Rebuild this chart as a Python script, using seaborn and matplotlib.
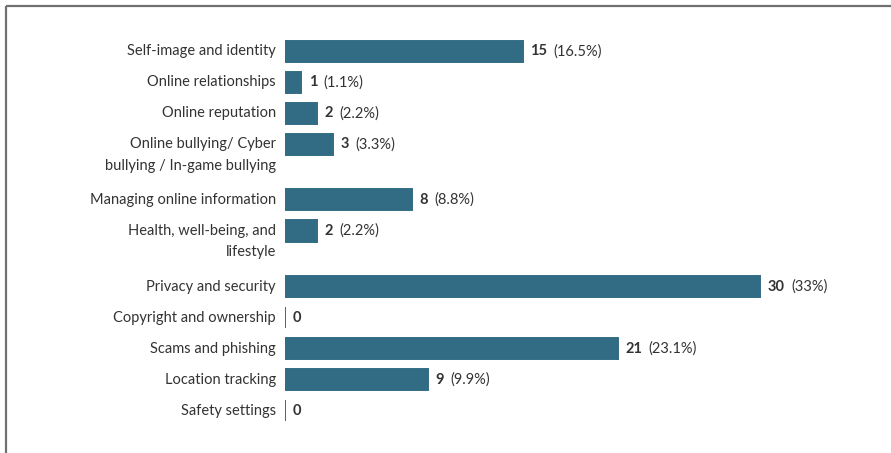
import matplotlib
matplotlib.use("Agg")
import matplotlib.pyplot as plt
from matplotlib.lines import Line2D
import seaborn as sns
import pandas as pd

categories = [
    "Self-image and identity",
    "Online relationships",
    "Online reputation",
    "Online bullying/ Cyber\nbullying / In-game bullying",
    "Managing online information",
    "Health, well-being, and\nlifestyle",
    "Privacy and security",
    "Copyright and ownership",
    "Scams and phishing",
    "Location tracking",
    "Safety settings",
]
counts = [15, 1, 2, 3, 8, 2, 30, 0, 21, 9, 0]

BAR_COLOR = "#326b84"
TEXT_COLOR = "#333333"
FONT = ["Lato", "DejaVu Sans"]
FS = 10.5

# Row positions: one unit per row, plus extra room after wrapped labels
positions = []
pos = 0.0
for label in categories:
    positions.append(pos)
    pos += 1.0 + 0.79 * label.count("\n")

total = sum(counts)
df = pd.DataFrame({"category": categories, "count": counts, "pos": positions})

sns.set_theme(style="white")
plt.rcParams["font.family"] = FONT

W, H = 891, 453
fig = plt.figure(figsize=(W / 100, H / 100), dpi=100)
ax = fig.add_axes([285 / W, 12 / H, (860 - 285) / W, (432 - 12) / H])

sns.barplot(data=df, x="count", y="pos", orient="h", native_scale=True,
            color=BAR_COLOR, saturation=1, width=0.68,
            edgecolor=BAR_COLOR, linewidth=1.4, ax=ax)

ax.set_xlim(0, (860 - 285) / ((760 - 285) / 30))
ax.set_ylim(positions[-1] + 0.97, -0.97)
ax.axis("off")

# Category labels, right-aligned left of the bars, first line level with the bar
line_step = 0.69
for label, y in zip(categories, positions):
    for i, line in enumerate(label.split("\n")):
        ax.annotate(line, xy=(0, y + i * line_step), xycoords="data",
                    xytext=(-9, 0), textcoords="offset pixels",
                    ha="right", va="center", fontsize=FS, color=TEXT_COLOR,
                    family=FONT)

# Value labels: bold count followed by share of total
for c, y in zip(counts, positions):
    t = ax.annotate(f"{c}", xy=(c, y), xytext=(8, 0), textcoords="offset pixels",
                    ha="left", va="center", fontsize=FS, fontweight="bold",
                    color=TEXT_COLOR, family=FONT)
    if c > 0:
        pct = round(100 * c / total, 1)
        pct_txt = f"{pct:.1f}".rstrip("0").rstrip(".")
        ax.annotate(f"({pct_txt}%)", xy=(1, 0.5), xycoords=t,
                    xytext=(6, 0), textcoords="offset pixels",
                    ha="left", va="center", fontsize=FS, color=TEXT_COLOR,
                    family=FONT)

# Gray frame along the top and left edges
frame = dict(color="#707070", linewidth=1.6, solid_capstyle="butt")
fig.add_artist(Line2D([6 / W, 1], [1 - 6 / H, 1 - 6 / H], transform=fig.transFigure, **frame))
fig.add_artist(Line2D([6 / W, 6 / W], [0, 1 - 6 / H], transform=fig.transFigure, **frame))

fig.savefig("out.png", dpi=100, facecolor="white")
